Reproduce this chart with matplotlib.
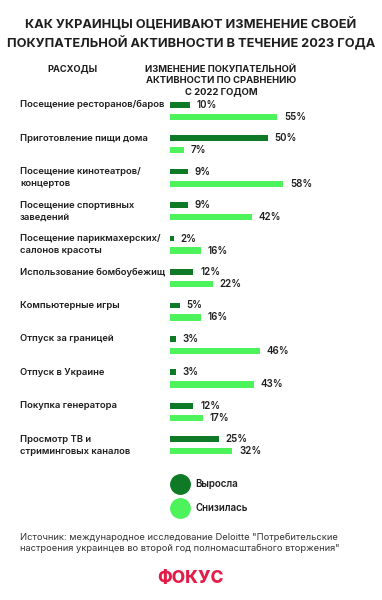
import matplotlib
matplotlib.use("Agg")
import matplotlib.pyplot as plt
from matplotlib.lines import Line2D
from matplotlib.transforms import blended_transform_factory

plt.rcParams['font.family'] = ['Inter', 'DejaVu Sans']

categories = [
    "Посещение ресторанов/баров",
    "Приготовление пищи дома",
    "Посещение кинотеатров/\nконцертов",
    "Посещение спортивных\nзаведений",
    "Посещение парикмахерских/\nсалонов красоты",
    "Использование бомбоубежищ",
    "Компьютерные игры",
    "Отпуск за границей",
    "Отпуск в Украине",
    "Покупка генератора",
    "Просмотр ТВ и\nстриминговых каналов",
]
grew = [10, 50, 9, 9, 2, 12, 5, 3, 3, 12, 25]
fell = [55, 7, 58, 42, 16, 22, 16, 46, 43, 17, 32]

legend_labels = ["Выросла", "Снизилась"]
dark = "#0f7a26"
light = "#4cf35b"
txt = "#1e1e1e"

W, H = 382, 600
fig = plt.figure(figsize=(W / 100, H / 100), dpi=100)
fig.patch.set_facecolor("white")

# axes: x 0..100 -> 170..365 px, rows 0..10
ax = fig.add_axes([170 / W, 1 - 462 / H, 195 / W, 368 / H])
ax.set_xlim(0, 100)
ax.set_ylim(10.5, -0.5)
ax.axis("off")

off = 0.18
bh = 0.17
ypos = list(range(len(categories)))
ax.barh([y - off for y in ypos], grew, height=bh, color=dark)
ax.barh([y + off for y in ypos], fell, height=bh * 1.1, color=light)

for y, g, f in zip(ypos, grew, fell):
    ax.text(g + 3.5, y - off, f"{g}%", va="center", ha="left",
            fontsize=7, fontweight="semibold", color=txt)
    ax.text(f + 3.5, y + off, f"{f}%", va="center", ha="left",
            fontsize=7, fontweight="semibold", color=txt)

tr = blended_transform_factory(fig.transFigure, ax.transData)
for y, lab in zip(ypos, categories):
    parts = lab.split("\n")
    for k, p in enumerate(parts):
        ax.text(20 / W, y - off + 2 * off * k, p, transform=tr,
                va="center", ha="left", fontsize=6.8, fontweight="semibold", color=txt)

# title and headers
fig.text(0.5, 1 - 25 / H, "КАК УКРАИНЦЫ ОЦЕНИВАЮТ ИЗМЕНЕНИЕ СВОЕЙ",
         ha="center", va="center", fontsize=9.2, fontweight="bold", color=txt)
fig.text(0.5, 1 - 43 / H, "ПОКУПАТЕЛЬНОЙ АКТИВНОСТИ В ТЕЧЕНИЕ 2023 ГОДА",
         ha="center", va="center", fontsize=9.2, fontweight="bold", color=txt)
fig.text(72 / W, 1 - 69 / H, "РАСХОДЫ", ha="center", va="center",
         fontsize=6.7, fontweight="bold", color=txt)
for k, line in enumerate(["ИЗМЕНЕНИЕ ПОКУПАТЕЛЬНОЙ",
                          "АКТИВНОСТИ ПО СРАВНЕНИЮ",
                          "С 2022 ГОДОМ"]):
    fig.text(221 / W, 1 - (69 + 11.5 * k) / H, line, ha="center", va="center",
             fontsize=6.8, fontweight="bold", color=txt)

# legend
for k, (lab, c) in enumerate(zip(legend_labels, [dark, light])):
    yy = 1 - (484 + 24 * k) / H
    fig.add_artist(Line2D([180 / W], [yy], marker="o", markersize=14,
                          color=c, linestyle="none", transform=fig.transFigure))
    fig.text(195 / W, yy, lab, ha="left", va="center", fontsize=7,
             fontweight="semibold", color=txt)

fig.text(20 / W, 1 - 537 / H,
         "Источник: международное исследование Deloitte \"Потребительские",
         ha="left", va="center", fontsize=6.7, color="#333333")
fig.text(20 / W, 1 - 548 / H,
         "настроения украинцев во второй год полномасштабного вторжения\"",
         ha="left", va="center", fontsize=6.7, color="#333333")

fig.text(190 / W, 1 - 579 / H, "ФОКУС", ha="center", va="center",
         fontsize=12.5, fontweight="heavy", color="#e31d48")

fig.savefig("out.png", dpi=100, facecolor="white")
